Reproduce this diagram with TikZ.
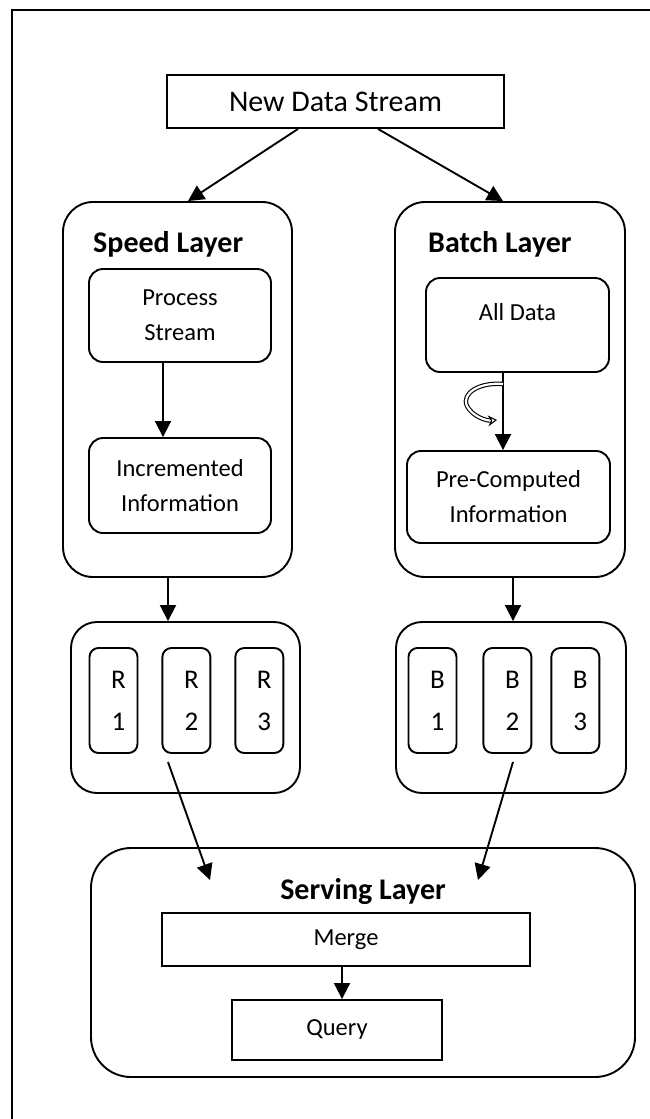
\documentclass[tikz,border=0pt]{standalone}
\usepackage{fontspec}
\setmainfont{Carlito}
\usetikzlibrary{positioning}
\usetikzlibrary{arrows.meta}

\tikzset{
    livello/.style={draw, line width=1.9pt, rounded corners=30pt, inner sep=0pt},
    blocco/.style={draw, line width=1.9pt, rounded corners=14pt, inner sep=0pt,
        align=center, font=\fontsize{24.5}{35}\selectfont},
    rett/.style={draw, line width=1.9pt, inner sep=0pt,
        font=\fontsize{24.5}{35}\selectfont},
    cella/.style={draw, line width=1.9pt, rounded corners=9pt, inner sep=0pt,
        minimum width=48pt, minimum height=105pt},
    testocella/.style={align=center, font=\fontsize{27}{42}\selectfont},
    titolo/.style={inner sep=0pt, font=\fontsize{30}{36}\selectfont\bfseries},
    freccia/.style={line width=1.9pt, -{Triangle[length=16pt,width=16pt]}}
}

\begin{document}
\begin{tikzpicture}[x=1pt, y=-1pt]
    \useasboundingbox (0,0) rectangle (650,1119);
    % cornice
    \draw[line width=2.4pt] (12,1119) -- (12,10) -- (650,10);

    % sorgente
    \node[rett, minimum width=337pt, minimum height=53pt,
        font=\fontsize{30}{36}\selectfont] (stream) at (335.5,101.5) {New Data Stream};

    % livelli principali
    \node[livello, minimum width=229pt, minimum height=375pt] (speed) at (177.5,389.5) {};
    \node[livello, minimum width=230pt, minimum height=375pt] (batch) at (510,389.5) {};
    \node[titolo, anchor=base west] (speedtit) at (93,252.7) {Speed Layer};
    \node[titolo, anchor=base west] (batchtit) at (428,252.7) {Batch Layer};

    % speed layer
    \node[blocco, minimum width=182pt, minimum height=93pt] (process) at (180,315.5) {Process\\Stream};
    \node[blocco, minimum width=182pt, minimum height=95pt] (incr) at (180,485.5) {Incremented\\Information};

    % batch layer
    \node[blocco, minimum width=183pt, minimum height=94pt] (alldata) at (517.5,325) {};
    \node[font=\fontsize{24.5}{35}\selectfont] (alldatatxt) at (517.5,312) {All Data};
    \node[blocco, minimum width=203pt, minimum height=92pt] (precomp) at (508.5,497) {Pre-Computed\\Information};

    % viste
    \node[livello, rounded corners=26pt, minimum width=229pt, minimum height=171pt] (rcont) at (185.5,707.5) {};
    \node[cella, label={[testocella, xshift=5pt]center:R\\1}] (r1) at (113.5,700.5) {};
    \node[cella, right=23pt of r1, label={[testocella, xshift=5pt]center:R\\2}] (r2) {};
    \node[cella, right=23pt of r2, label={[testocella, xshift=5pt]center:R\\3}] (r3) {};

    \node[livello, rounded corners=26pt, minimum width=230pt, minimum height=171pt] (bcont) at (511,707.5) {};
    \node[cella, label={[testocella, xshift=5pt]center:B\\1}] (b1) at (432.5,700.5) {};
    \node[cella, right=25pt of b1, label={[testocella, xshift=5pt]center:B\\2}] (b2) {};
    \node[cella, right=18pt of b2, label={[testocella, xshift=5pt]center:B\\3}] (b3) {};

    % serving layer
    \node[livello, rounded corners=40pt, minimum width=544pt, minimum height=229pt] (serving) at (363,962.5) {};
    \node[titolo, anchor=base] (servingtit) at (363,899.7) {Serving Layer};
    \node[rett, minimum width=368pt, minimum height=53pt] (merge) at (346,939.5) {Merge};
    \node[rett, minimum width=210pt, minimum height=60pt] (query) at (337,1030) {Query};

    % frecce
    \draw[freccia] ([xshift=-37.5pt]stream.south) -- ([xshift=10.5pt]speed.north);
    \draw[freccia] ([xshift=42.5pt]stream.south) -- ([xshift=-7pt]batch.north);
    \draw[freccia] ([xshift=-17pt]process.south) -- ([xshift=-17pt]incr.north);
    \draw[freccia] ([xshift=-14.5pt]alldata.south) -- ([xshift=-5.5pt]precomp.north);
    \draw[freccia] ([xshift=-9.5pt]speed.south) -- ([xshift=-17.5pt]rcont.north);
    \draw[freccia] ([xshift=3pt]batch.south) -- ([xshift=2pt]bcont.north);
    \draw[freccia] ([shift={(-17.5,54.5)}]rcont.center) -- ([shift={(-153,-82.5)}]serving.center);
    \draw[freccia] ([shift={(2,54.5)}]bcont.center) -- ([shift={(115,-82.5)}]serving.center);
    \draw[freccia] ([xshift=-4pt]merge.south) -- ([xshift=5pt]query.north);

    % ciclo del batch
    \draw[line width=1.1pt, double distance=2.2pt, -{Stealth[open,length=9pt,width=11pt]}]
        (503,384) .. controls (480,382) and (461,393) .. (467,406)
        .. controls (472,416) and (486,421) .. (497,420);
\end{tikzpicture}
\end{document}
